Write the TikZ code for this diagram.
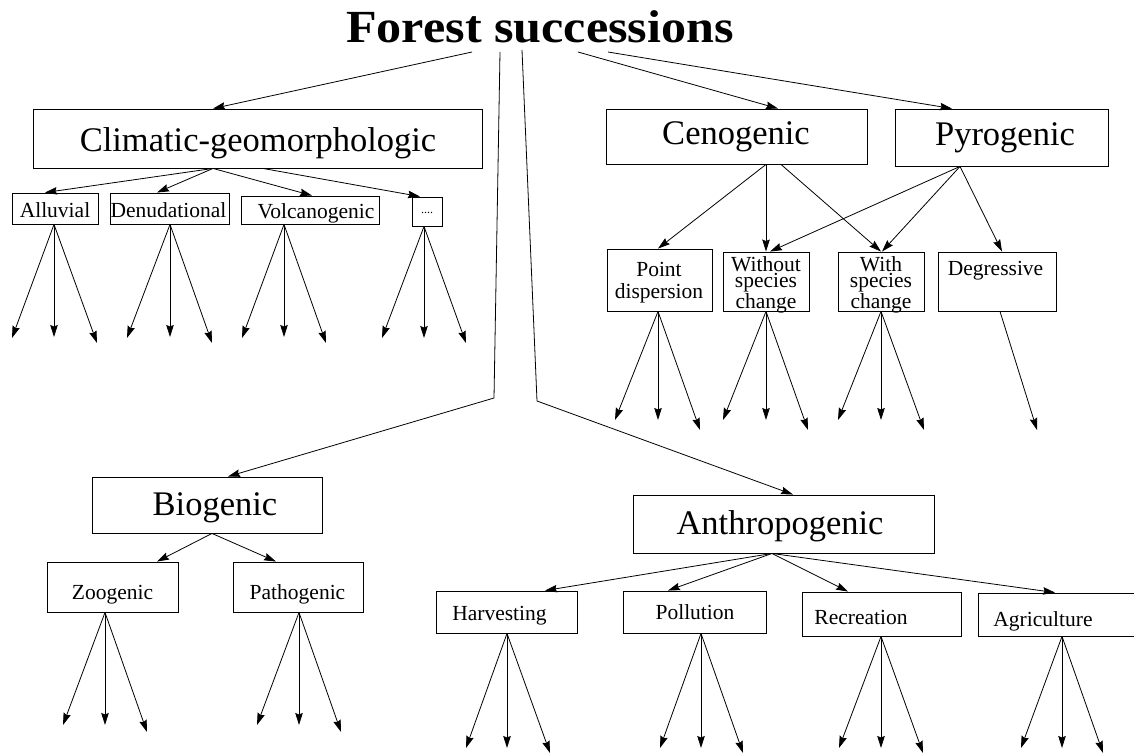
\documentclass[tikz,border=0pt]{standalone}
\usepackage{fontspec}
\usepackage{graphicx}
\setmainfont{Liberation Serif}
\usetikzlibrary{arrows.meta}
\tikzset{
 box/.style={draw, line width=0.9pt, inner sep=0pt, rectangle},
 arr/.style={-{Stealth[length=12pt,width=7.5pt,inset=1.5pt]}, line width=0.8pt},
 big/.style={font=\fontsize{34.5}{36}\selectfont, anchor=base, inner sep=0pt},
 small/.style={font=\fontsize{21.5}{22}\selectfont, anchor=base, inner sep=0pt, align=center},
 tight/.style={font=\fontsize{21.5}{16.5}\selectfont},
 ttl/.style={font=\fontsize{46}{50}\selectfont\bfseries, anchor=base, inner sep=0pt},
}
\newcommand\mybox[5]{\node[box, minimum width={#4-#2}, minimum height={#5-#3}] (#1) at ({(#2+#4)/2},{(#3+#5)/2}) {};}
\newcommand\leafs[8]{%
 \coordinate (#1L) at (#3,#4); \coordinate (#1M) at (#5,#6); \coordinate (#1R) at (#7,#8);
 \draw[arr] (#2) -- (#1L); \draw[arr] (#2) -- (#1M); \draw[arr] (#2) -- (#1R);}
\begin{document}
\begin{tikzpicture}[x=1pt,y=-1pt]
\useasboundingbox (0,0) rectangle (1134,754);
% title
\node[ttl] (title) at (540,43) {\scalebox{1.09}[1]{Forest successions}};
\coordinate (t1) at (472,52);
\coordinate (t2) at (500,52);
\coordinate (t3) at (522,50);
\coordinate (t4) at (578,52);
\coordinate (t5) at (608,52);
\coordinate (m1) at (494,398);
\coordinate (m2) at (537,401);
% boxes
\mybox{clim}{33}{109}{482}{168}
\mybox{ceno}{606}{109}{867}{164}
\mybox{pyro}{895}{109}{1108}{166}
\mybox{allu}{12}{193}{98}{224}
\mybox{denu}{110}{193}{229}{224}
\mybox{volc}{241}{196}{379}{224}
\mybox{dots}{412}{197}{442}{226}
\mybox{pdis}{607}{249}{712}{311}
\mybox{wout}{723}{252}{809}{311}
\mybox{with}{838}{252}{924}{311}
\mybox{degr}{938}{252}{1056}{311}
\mybox{bio}{92}{477}{322}{533}
\mybox{zoo}{47}{562}{178}{612}
\mybox{path}{233}{562}{363}{612}
\mybox{anth}{633}{495}{934}{553}
\mybox{harv}{436}{591}{577}{633}
\mybox{poll}{623}{591}{766}{633}
\mybox{recr}{802}{592}{961}{636}
\mybox{agri}{978}{593}{1140}{636}
% labels
\node[big] (climT) at (258,152) {Climatic-geomorphologic};
\node[big] (cenoT) at (736,145) {Cenogenic};
\node[big] (pyroT) at (1005,146) {Pyrogenic};
\node[big] (bioT) at (215,515) {Biogenic};
\node[big] (anthT) at (780,534) {Anthropogenic};
\node[small] (alluT) at (55,217) {Alluvial};
\node[small] (denuT) at (168.5,217) {Denudational};
\node[small] (volcT) at (316,218) {Volcanogenic};
\node[small, font=\fontsize{12}{12}\selectfont] (dotsT) at (427,213) {....};
\node[small] (pdisT) at (659,298) {Point\\dispersion};
\node[small, tight] (woutT) at (766,308) {Without\\species\\change};
\node[small, tight] (withT) at (881,308) {With\\species\\change};
\node[small] (degrT) at (995.5,275) {Degressive};
\node[small] (zooT) at (112.5,599) {Zoogenic};
\node[small] (pathT) at (297.5,599) {Pathogenic};
\node[small] (harvT) at (499.5,620) {Harvesting};
\node[small] (pollT) at (695,619) {Pollution};
\node[small] (recrT) at (861,624) {Recreation};
\node[small] (agriT) at (1043,626) {Agriculture};
% title connectors
\draw[arr] (t1) -- ([xshift=-44.5pt]clim.north);
\draw[arr] (t2) -- (m1) -- ([xshift=21pt]bio.north);
\draw[arr] (t3) -- (m2) -- ([xshift=9.5pt]anth.north);
\draw[arr] (t4) -- ([xshift=41.5pt]ceno.north);
\draw[arr] (t5) -- ([xshift=-49.5pt]pyro.north);
% climatic
\draw[arr] ([xshift=-44.5pt]clim.south) -- ([xshift=-10pt]allu.north);
\draw[arr] ([xshift=-44.5pt]clim.south) -- ([xshift=-12.5pt]denu.north);
\draw[arr] ([xshift=-44.5pt]clim.south) -- ([xshift=2pt]volc.north);
\draw[arr] ([xshift=5.5pt]clim.south) -- ([xshift=-7pt]dots.north);
% cenogenic / pyrogenic
\draw[arr] ([xshift=29.5pt]ceno.south) -- ([xshift=-1.5pt]pdis.north);
\draw[arr] ([xshift=29.5pt]ceno.south) -- (wout.north);
\draw[arr] ([xshift=44.5pt]ceno.south) -- (with.north);
\draw[arr] ([xshift=-41.5pt]pyro.south) -- ([xshift=4pt]wout.north);
\draw[arr] ([xshift=-41.5pt]pyro.south) -- ([xshift=1pt]with.north);
\draw[arr] ([xshift=-41.5pt]pyro.south) -- ([xshift=5pt]degr.north);
% biogenic
\draw[arr] ([xshift=5pt]bio.south) -- ([xshift=44.5pt]zoo.north);
\draw[arr] ([xshift=5pt]bio.south) -- ([xshift=-22pt]path.north);
% anthropogenic
\draw[arr] ([xshift=-11.5pt]anth.south) -- ([xshift=38.5pt]harv.north);
\draw[arr] ([xshift=-11.5pt]anth.south) -- ([xshift=-26.5pt]poll.north);
\draw[arr] ([xshift=-11.5pt]anth.south) -- ([xshift=-33.5pt]recr.north);
\draw[arr] ([xshift=-11.5pt]anth.south) -- ([xshift=-4pt]agri.north);
% leaves
\coordinate (allus) at ([xshift=-1pt]allu.south);
\leafs{allu}{allus}{12}{338}{54}{337}{97}{343}
\coordinate (denus) at ([xshift=0.5pt]denu.south);
\leafs{denu}{denus}{127}{338}{170}{337}{212}{343}
\coordinate (volcs) at ([xshift=-26pt]volc.south);
\leafs{volc}{volcs}{242}{338}{284}{337}{326}{343}
\coordinate (dotss) at ([xshift=-3pt]dots.south);
\leafs{dots}{dotss}{382}{338}{424}{338}{466}{343}
\coordinate (pdiss) at ([xshift=-1.5pt]pdis.south);
\leafs{pdis}{pdiss}{615}{420}{658}{420}{700}{430}
\coordinate (wouts) at (wout.south);
\leafs{wout}{wouts}{723}{420}{766}{420}{808}{430}
\coordinate (withs) at (with.south);
\leafs{with}{withs}{838}{420}{881}{420}{924}{430}
\coordinate (degrs) at ([xshift=3pt]degr.south);
\coordinate (degrE) at (1037,430);
\draw[arr] (degrs) -- (degrE);
\coordinate (zoos) at ([xshift=-7.5pt]zoo.south);
\leafs{zoo}{zoos}{63}{725}{105}{725}{147}{732}
\coordinate (paths) at ([xshift=1pt]path.south);
\leafs{path}{paths}{257}{725}{299}{725}{341}{732}
\coordinate (harvs) at ([xshift=0.5pt]harv.south);
\leafs{harv}{harvs}{466}{748}{507}{748}{550}{753}
\coordinate (polls) at ([xshift=6.5pt]poll.south);
\leafs{poll}{polls}{660}{748}{701}{748}{743}{753}
\coordinate (recrs) at ([xshift=-0.5pt]recr.south);
\leafs{recr}{recrs}{839}{748}{881}{748}{923}{753}
\coordinate (agris) at ([xshift=3pt]agri.south);
\leafs{agri}{agris}{1021}{748}{1062}{748}{1103}{753}
\end{tikzpicture}
\end{document}
